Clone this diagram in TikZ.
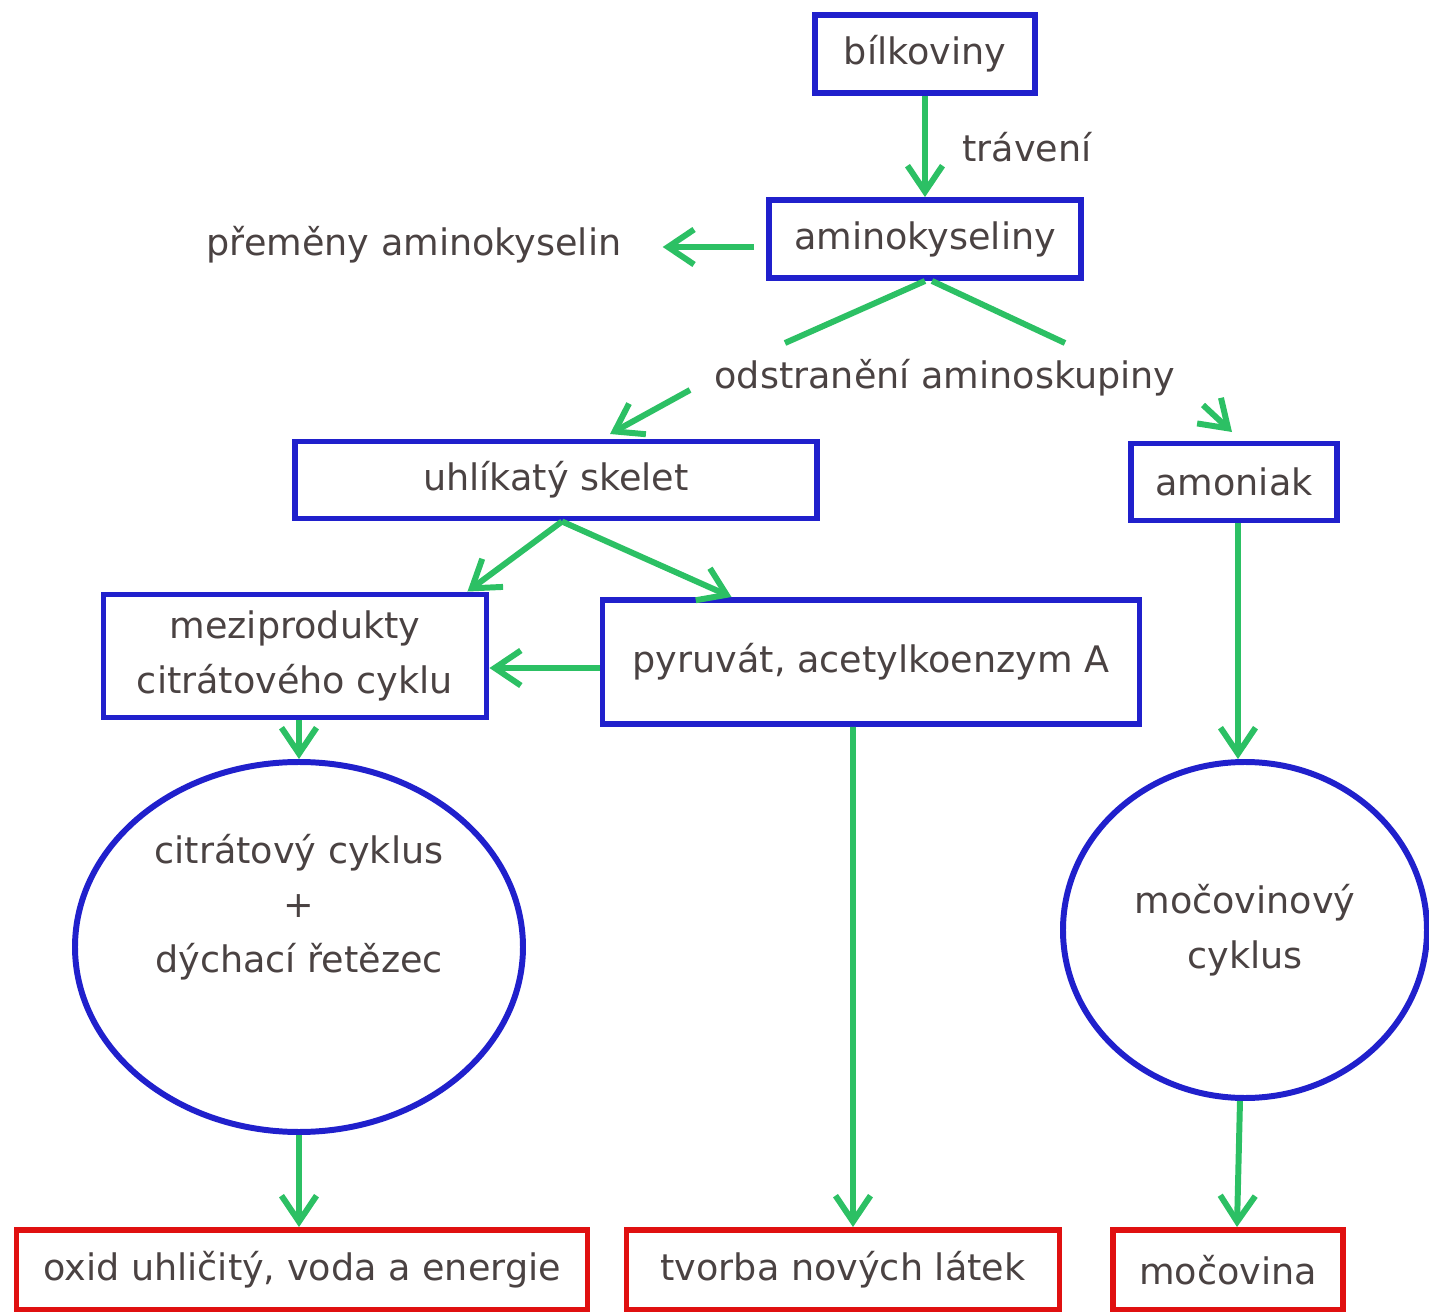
\documentclass[tikz,border=0pt]{standalone}
\usepackage{fontspec}
\setmainfont{DejaVu Sans}
\usetikzlibrary{arrows.meta,shapes.geometric}
\definecolor{modra}{HTML}{2020CC}
\definecolor{cervena}{HTML}{E01010}
\definecolor{zelena}{HTML}{2CC064}
\definecolor{pismo}{HTML}{4A4242}

\begin{document}
\begin{tikzpicture}[x=0.1mm, y=-0.1mm,
    every node/.style={text=pismo, font=\fontsize{10.4}{15.5}\selectfont},
    box/.style={draw=modra, line width=1.7pt, inner sep=0pt},
    cil/.style={draw=cervena, line width=1.7pt, inner sep=0pt},
    kruh/.style={draw=modra, line width=1.7pt, ellipse, inner sep=0pt, align=center},
    sipka/.style={draw=zelena, line width=1.7pt, -{Straight Barb[length=2.6mm, width=3.5mm, line width=1.7pt]}},
    cara/.style={draw=zelena, line width=1.7pt}]
  \useasboundingbox (0,0) rectangle (1429,1312);

  \node[box, minimum width=22mm, minimum height=7.8mm] (bil) at (925,54) {bílkoviny};
  \node[box, minimum width=31.2mm, minimum height=7.8mm] (ak) at (925,239) {aminokyseliny};
  \node (prem) at (414,245) {přeměny aminokyselin};
  \node (trav) at (1027,147) {trávení};
  \node (odst) at (945,378) {odstranění aminoskupiny};
  \node[box, minimum width=52.2mm, minimum height=7.7mm] (skel) at (556,480) {uhlíkatý skelet};
  \node[box, minimum width=20.6mm, minimum height=7.7mm] (amo) at (1234,482) {amoniak};
  \node[box, minimum width=38.3mm, minimum height=12.3mm, align=center] (mez) at (295,656) {meziprodukty\\citrátového cyklu};
  \node[box, minimum width=53.7mm, minimum height=12.4mm] (pyr) at (871,662) {pyruvát, acetylkoenzym A};
  \node[kruh, minimum width=44.8mm, minimum height=37mm] (cit) at (299,947) {};
  \node[align=center] (citt) at (299,907) {citrátový cyklus\\+\\dýchací řetězec};
  \node[kruh, minimum width=36.4mm, minimum height=33.6mm] (moc) at (1245,930) {močovinový\\cyklus};
  \node[cil, minimum width=57.1mm, minimum height=8mm] (oxid) at (302,1270) {oxid uhličitý, voda a energie};
  \node[cil, minimum width=43.3mm, minimum height=8mm] (tvo) at (843,1270) {tvorba nových látek};
  \node[cil, minimum width=23mm, minimum height=8mm] (mcv) at (1228,1270) {močovina};

  \coordinate (l1) at (785,343);
  \coordinate (l2) at (1065,343);
  \coordinate (s1) at (690,390);
  \coordinate (s2) at (610,434);
  \coordinate (a1) at (1203,405);
  \coordinate (a2) at (1232,432);

  \draw[sipka] (bil) -- (ak);
  \draw[sipka, shorten <=1.2mm, shorten >=2.9mm] ([yshift=-0.8mm]ak.west) -- ([yshift=-0.8mm]ak.west -| prem.east);
  \draw[cara] (ak.south) -- (l1);
  \draw[cara] ([xshift=0.7mm]ak.south) -- (l2);
  \draw[sipka] (s1) -- (s2);
  \draw[sipka] (a1) -- (a2);
  \draw[sipka] ([xshift=0.6mm]skel.south) -- ([xshift=-2.2mm]mez.north east);
  \draw[sipka] ([xshift=0.6mm]skel.south) -- ([xshift=13.2mm]pyr.north west);
  \draw[sipka] ([yshift=-0.6mm]pyr.west) -- ([yshift=-0.6mm]pyr.west -| mez.east);
  \draw[sipka] (cit.north |- mez.south) -- (cit.north);
  \draw[sipka] (cit.south) -- (cit.south |- oxid.north);
  \draw[sipka] ([xshift=-1.8mm]pyr.south) -- ([xshift=1mm]tvo.north);
  \draw[sipka] ([xshift=0.4mm]amo.south) -- ([xshift=0.4mm]amo.south |- moc.north);
  \draw[sipka] ([xshift=-0.5mm]moc.south) -- ([xshift=0.9mm]mcv.north);
\end{tikzpicture}
\end{document}
